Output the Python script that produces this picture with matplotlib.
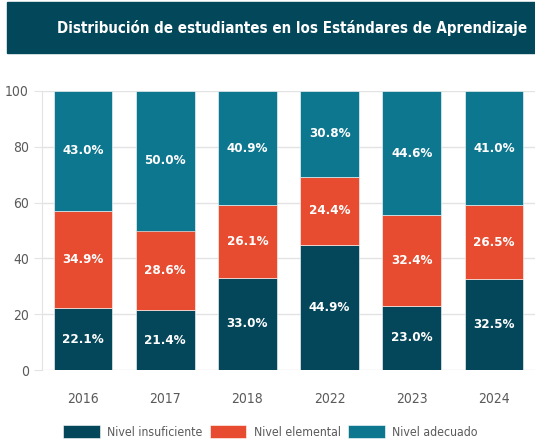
import matplotlib.pyplot as plt
from matplotlib.patches import Rectangle
import numpy as np

years = ["2016", "2017", "2018", "2022", "2023", "2024"]
insuficiente = [22.1, 21.4, 33.0, 44.9, 23.0, 32.5]
elemental = [34.9, 28.6, 26.1, 24.4, 32.4, 26.5]
adecuado = [43.0, 50.0, 40.9, 30.8, 44.6, 41.0]
series_names = ["Nivel insuficiente", "Nivel elemental", "Nivel adecuado"]
colors = ["#05475a", "#e84c30", "#0e7790"]

plt.rcParams['font.family'] = ['DejaVu Sans']
plt.rcParams['font.stretch'] = 'condensed'

fig = plt.figure(figsize=(5.35, 4.43), dpi=100)

# title banner
fig.patches.append(Rectangle((7 / 535, 1 - 53 / 443), 1, 51 / 443,
                             transform=fig.transFigure, color="#03485a", zorder=0))
fig.text(292 / 535, 1 - 28 / 443, "Distribución de estudiantes en los Estándares de Aprendizaje",
         ha="center", va="center", color="white", fontsize=10.8, fontweight="bold")

ax = fig.add_axes([42 / 535, 1 - 370 / 443, 1 - 42 / 535, 279 / 443])
x = np.arange(len(years))
bottom = np.zeros(len(years))
for vals, name, c in zip([insuficiente, elemental, adecuado], series_names, colors):
    vals = np.array(vals)
    ax.bar(x, vals, 0.715, bottom=bottom, color=c, label=name, zorder=3,
           edgecolor="white", linewidth=0.4)
    for xi, b, v in zip(x, bottom, vals):
        ax.text(xi, b + v / 2, f"{v:.1f}%", ha="center", va="center",
                color="white", fontsize=9.5, fontweight="bold", zorder=4)
    bottom += vals

ax.set_xlim(-0.5, len(years) - 0.5)
ax.set_ylim(0, 100)
ax.set_yticks([0, 20, 40, 60, 80, 100])
ax.set_xticks(x)
ax.set_xticklabels(years)
ax.grid(axis="y", color="#e3e3e3", linewidth=1, zorder=0)
for s in ["top", "right", "bottom"]:
    ax.spines[s].set_visible(False)
ax.spines["left"].set_color("#e3e3e3")
ax.tick_params(axis="y", colors="#e3e3e3", labelcolor="#5a5a5a", labelsize=10, length=6)
ax.tick_params(axis="x", length=0, labelcolor="#5a5a5a", labelsize=10, pad=16)

fig.legend(loc="lower center", bbox_to_anchor=(0.505, -0.015), ncol=3, frameon=False,
           fontsize=8.8, labelcolor="#5a5a5a", handlelength=3.0, handleheight=1.3,
           columnspacing=0.6, handletextpad=0.6)

fig.savefig("out.png", dpi=100)
